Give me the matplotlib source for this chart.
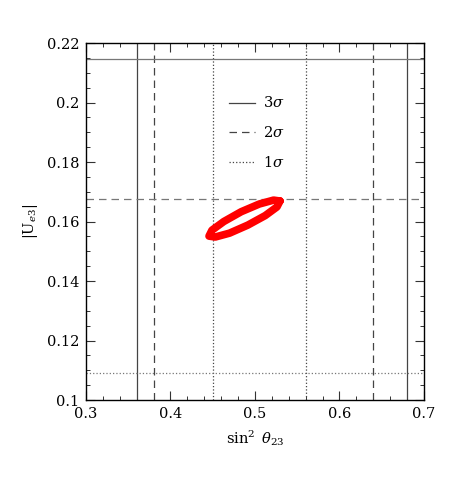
import matplotlib
matplotlib.use("Agg")
from matplotlib import pyplot as plt
from matplotlib.ticker import MultipleLocator, FuncFormatter

# sigma bounds on sin^2 theta23 (vertical lines)
s23_3sig = [0.36, 0.68]
s23_2sig = [0.38, 0.64]
s23_1sig = [0.45, 0.56]

# bounds on |Ue3| (horizontal lines)
ue3_3sig = 0.2146
ue3_2sig = 0.1675
ue3_1sig = 0.1092

# allowed region contour
cont_x = [0.5296, 0.5220, 0.5052, 0.4837, 0.4631, 0.4491, 0.4456,
          0.4531, 0.4699, 0.4915, 0.5121, 0.5260, 0.5296]
cont_y = [0.1669, 0.1672, 0.1659, 0.1633, 0.1600, 0.1571, 0.1551,
          0.1548, 0.1561, 0.1588, 0.1620, 0.1649, 0.1669]

legend_labels = [r'3$\sigma$', r'2$\sigma$', r'1$\sigma$']
legend_y = [0.20, 0.19, 0.18]

plt.rcParams['font.family'] = 'DejaVu Serif'
plt.rcParams['mathtext.fontset'] = 'dejavuserif'

fig = plt.figure(figsize=(4.63, 4.91), dpi=100)
ax = fig.add_axes([0.1857, 0.1853, 0.730, 0.727])

line_col = '#444444'
styles = [('-', 0.9), ((0, (6, 4)), 0.9), (':', 0.9)]

for (ls, lw), xs in zip(styles, [s23_3sig, s23_2sig, s23_1sig]):
    for xv in xs:
        ax.axvline(xv, color=line_col, linestyle=ls, linewidth=lw)

for (ls, lw), yv in zip(styles, [ue3_3sig, ue3_2sig, ue3_1sig]):
    ax.axhline(yv, color='#777777', linestyle=ls, linewidth=lw)

ax.plot(cont_x, cont_y, color='#ff0000', linewidth=5.5, solid_joinstyle='round',
        solid_capstyle='round', zorder=5)

# hand-made legend
for (ls, lw), lab, yv in zip(styles, legend_labels, legend_y):
    ax.plot([0.469, 0.500], [yv, yv], color=line_col, linestyle=ls, linewidth=lw)
    ax.text(0.509, yv, lab, fontsize=10.5, va='center', ha='left')

fmt = FuncFormatter(lambda v, p: ('%.2f' % v).rstrip('0'))
ax.set_xlim(0.3, 0.7)
ax.set_ylim(0.1, 0.22)
ax.xaxis.set_major_locator(MultipleLocator(0.1))
ax.xaxis.set_minor_locator(MultipleLocator(0.02))
ax.yaxis.set_major_locator(MultipleLocator(0.02))
ax.yaxis.set_minor_locator(MultipleLocator(0.005))
ax.xaxis.set_major_formatter(fmt)
ax.yaxis.set_major_formatter(fmt)
ax.tick_params(which='both', direction='in', top=True, right=True, labelsize=10.5, color='#333333')
ax.tick_params(which='major', length=6.5, width=0.8, pad=5)
ax.tick_params(which='minor', length=3.2, width=0.7)
for sp in ax.spines.values():
    sp.set_linewidth(1.0)

ax.set_xlabel(r'$\sin^2\ \theta_{23}$', fontsize=10.5, labelpad=5)
ax.set_ylabel(r'$|\mathrm{U}_{e3}|$', fontsize=10.5, labelpad=5)

fig.savefig('out.png', dpi=100)
